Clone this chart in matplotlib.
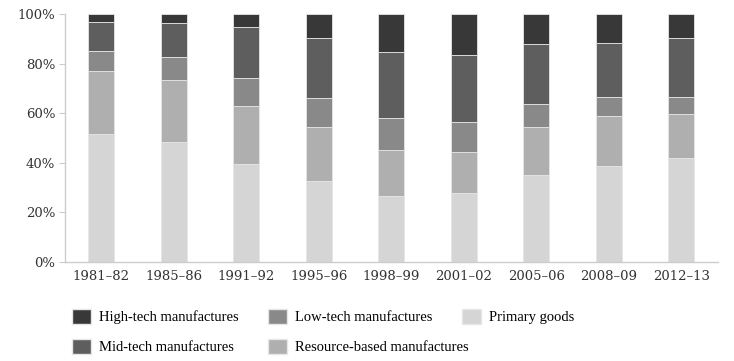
import matplotlib
matplotlib.use("Agg")
import matplotlib.pyplot as plt
import numpy as np
from matplotlib.patches import Patch

periods = ["1981–82", "1985–86", "1991–92", "1995–96", "1998–99",
           "2001–02", "2005–06", "2008–09", "2012–13"]
primary = [51.5, 48.5, 39.5, 32.7, 26.7, 27.7, 35.3, 38.7, 41.9]
resource = [25.7, 24.9, 23.4, 21.6, 18.3, 16.5, 19.1, 20.3, 18.0]
low_tech = [8.0, 9.1, 11.4, 12.0, 13.2, 12.3, 9.3, 7.7, 6.8]
mid_tech = [11.7, 13.9, 20.6, 24.2, 26.6, 26.8, 24.1, 21.5, 23.5]
high_tech = [3.1, 3.6, 5.1, 9.5, 15.2, 16.7, 12.2, 11.8, 9.8]
yticks = [0, 20, 40, 60, 80, 100]

series = [
    ("Primary goods", primary, "#d5d5d5"),
    ("Resource-based manufactures", resource, "#afafaf"),
    ("Low-tech manufactures", low_tech, "#898989"),
    ("Mid-tech manufactures", mid_tech, "#5e5e5e"),
    ("High-tech manufactures", high_tech, "#383838"),
]

serif = ["DejaVu Serif"]
fig = plt.figure(figsize=(7.34, 3.61), dpi=100)
ax = fig.add_axes([0.0886, 0.274, 0.889, 0.687])

x = np.arange(len(periods))
bottom = np.zeros(len(periods))
colors = {}
for name, vals, col in series:
    v = np.array(vals)
    ax.bar(x, v, 0.36, bottom=bottom, color=col, edgecolor="#e6e6e6", linewidth=0.6)
    bottom += v
    colors[name] = col

ax.set_xlim(-0.5, 8.5)
ax.set_ylim(0, 100)
ax.set_yticks(yticks)
ax.set_yticklabels([f"{t}%" for t in yticks], family=serif, fontsize=9.5, color="#333333")
ax.set_xticks(x)
ax.set_xticklabels(periods, family=serif, fontsize=9.5, color="#333333")
ax.tick_params(axis="x", length=0, pad=6)
ax.tick_params(axis="y", length=4, color="#cccccc", pad=3)
for s in ["top", "right"]:
    ax.spines[s].set_visible(False)
for s in ["left", "bottom"]:
    ax.spines[s].set_color("#cccccc")
    ax.spines[s].set_linewidth(1.0)

# legend entries laid out on a fixed grid like the reference
legend_layout = [
    ("High-tech manufactures", 0.0981, 0.1233),
    ("Mid-tech manufactures", 0.0981, 0.0402),
    ("Low-tech manufactures", 0.3651, 0.1233),
    ("Resource-based manufactures", 0.3651, 0.0402),
    ("Primary goods", 0.6294, 0.1233),
]
for name, lx, ly in legend_layout:
    h = Patch(facecolor=colors[name], edgecolor="#e6e6e6", label=name)
    fig.legend(handles=[h], loc="center left", bbox_to_anchor=(lx, ly),
               frameon=False, prop={"family": ["Liberation Serif"], "size": 10.5},
               handlelength=1.3, handleheight=1.3, handletextpad=0.55,
               borderpad=0, borderaxespad=0)

fig.savefig("out.png", dpi=100)
